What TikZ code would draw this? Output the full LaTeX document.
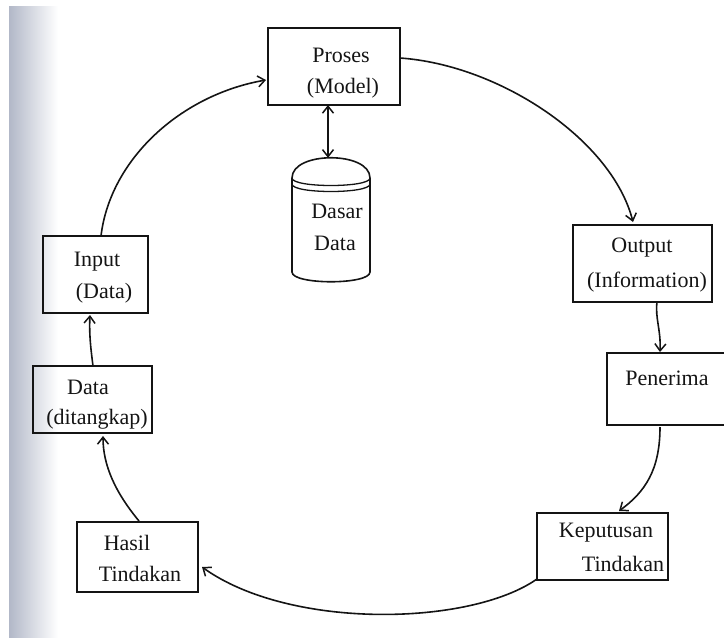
\documentclass[tikz,border=0pt]{standalone}
\usepackage{fontspec}
\setmainfont{Liberation Serif}
\usetikzlibrary{arrows.meta}
\definecolor{scan}{RGB}{178,184,200}
\definecolor{ink}{RGB}{20,20,20}
\begin{document}
\begin{tikzpicture}[x=1pt,y=-1pt,
  box/.style={draw=ink,line width=1.7pt,inner sep=0pt,outer sep=0pt},
  lbl/.style={font=\fontsize{22}{26}\selectfont,text=ink,inner sep=0pt},
  tip/.style={Straight Barb[length=7pt,width=11pt,line width=1.5pt]},
  conn/.style={draw=ink,line width=1.6pt,-{Straight Barb[length=7pt,width=11pt,line width=1.5pt]}},
  dconn/.style={draw=ink,line width=1.6pt,{Straight Barb[length=7pt,width=11pt,line width=1.5pt]}-{Straight Barb[length=7pt,width=11pt,line width=1.5pt]}}]
\useasboundingbox (0,0) rectangle (724,638);
\clip (0,0) rectangle (724,638);
% scan shading at the left edge
\shade[left color=scan,right color=white] (9,6) rectangle (58,638);
\fill[white] (58,6) rectangle (70,638);

% boxes
\node[box,minimum width=132pt,minimum height=77pt] (proses) at (334,66.5) {};
\node[box,minimum width=139pt,minimum height=77pt] (output) at (642.5,263.5) {};
\node[box,minimum width=128pt,minimum height=72pt] (penerima) at (671,389) {};
\node[box,minimum width=131pt,minimum height=67pt] (keputusan) at (602.5,546.5) {};
\node[box,minimum width=121pt,minimum height=70pt] (hasil) at (137.5,557) {};
\node[box,minimum width=119pt,minimum height=67pt] (data) at (92.5,399.5) {};
\node[box,minimum width=105pt,minimum height=77pt] (input) at (95.5,274.5) {};

% database cylinder
\node[inner sep=0pt,minimum width=78pt,minimum height=124pt] (db) at (331,220) {};
\draw[ink,line width=1.6pt]
  (292,178) .. controls (292,151) and (370,151) .. (370,178)
  -- (370,272) .. controls (370,285) and (292,285) .. (292,272) -- cycle;
\draw[ink,line width=1.3pt] (292,178) .. controls (292,188) and (370,188) .. (370,178);
\draw[ink,line width=1.3pt] (292,184) .. controls (292,194) and (370,194) .. (370,184);

% labels
\node[lbl] (tproses) at (341,55) {Proses};
\node[lbl] (tmodel) at (343,88) {(Model)};
\node[lbl] (tdasar) at (337,211) {Dasar};
\node[lbl] (tdata1) at (335,243) {Data};
\node[lbl] (toutput) at (642,248) {Output};
\node[lbl] (tinfo) at (647,282) {(Information)};
\node[lbl] (tpenerima) at (667,378) {Penerima};
\node[lbl] (tkep) at (606,533) {Keputusan};
\node[lbl] (ttind1) at (623,564) {Tindakan};
\node[lbl] (thasil) at (127,543) {Hasil};
\node[lbl] (ttind2) at (140,574) {Tindakan};
\node[lbl] (tinput) at (97,262) {Input};
\node[lbl] (tdata2) at (104,293) {(Data)};
\node[lbl] (tdata3) at (88,387) {Data};
\node[lbl] (tditangkap) at (97,419) {(ditangkap)};

% connectors
\coordinate (a1) at (101,236);
\coordinate (a2) at (266,80);
\draw[conn] (a1) .. controls (110,160) and (180,95) .. (a2);
\coordinate (b1) at (400,58);
\coordinate (b2) at (633,222);
\draw[conn] (b1) .. controls (500,65) and (612,140) .. (b2);
\coordinate (c1) at (657,302);
\coordinate (c2) at (660,352);
\draw[conn] (c1) .. controls (655,318) and (661,330) .. (c2);
\coordinate (d1) at (660,427);
\coordinate (d2) at (619,511);
\draw[conn] (d1) .. controls (660,470) and (645,492) .. (d2);
\coordinate (e1) at (537,579);
\coordinate (e2) at (202,567);
\draw[conn] (e1) .. controls (470,626) and (290,630) .. (e2);
\coordinate (f1) at (139,521);
\coordinate (f2) at (103,436);
\draw[conn] (f1) .. controls (115,492) and (103,465) .. (f2);
\coordinate (g1) at (93,366);
\coordinate (g2) at (90,315);
\draw[conn] (g1) .. controls (91,350) and (89,335) .. (g2);
\draw[dconn] ([xshift=-6pt]proses.south) -- ([xshift=-3pt]db.north);
\end{tikzpicture}
\end{document}
